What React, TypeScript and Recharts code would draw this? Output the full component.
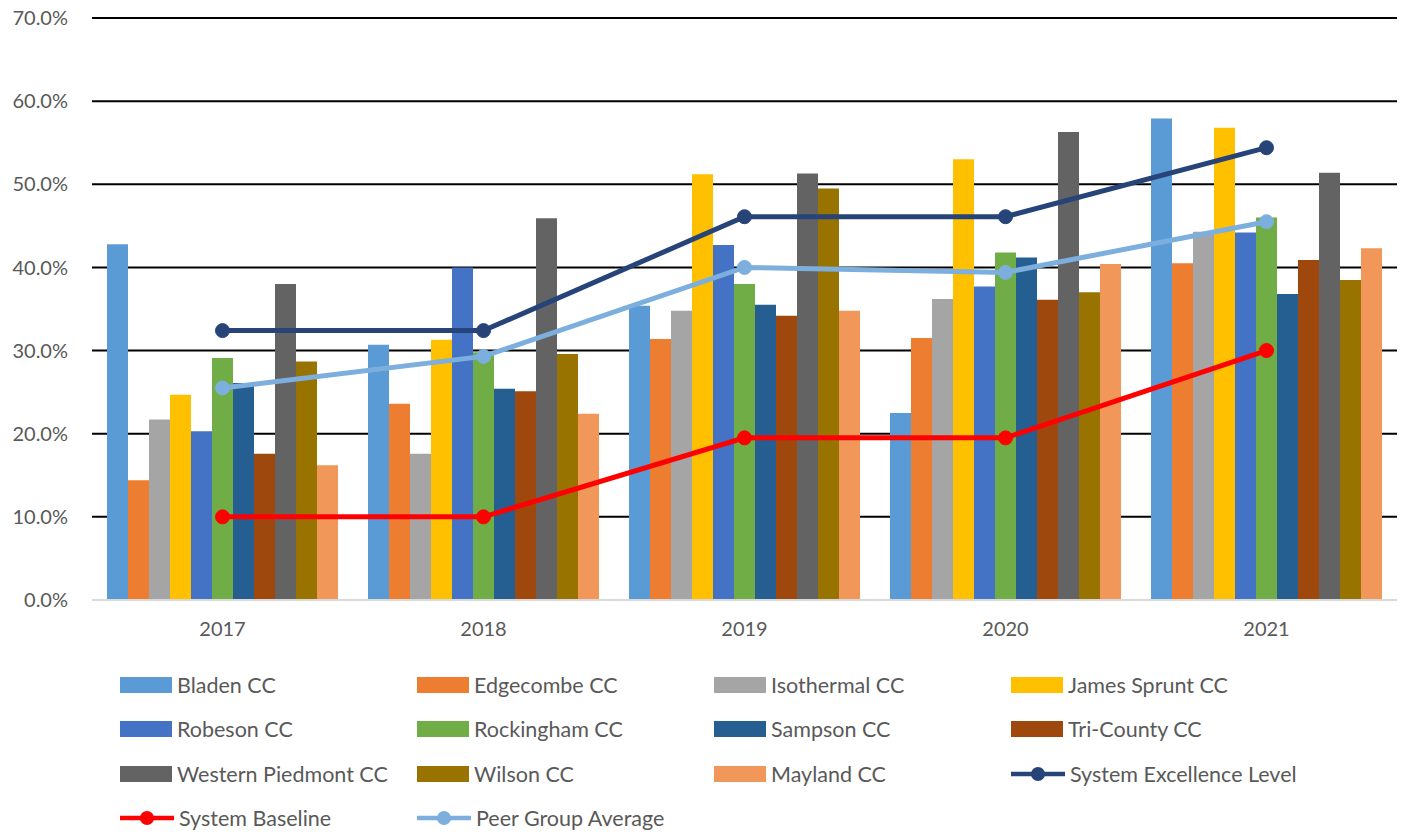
import { ComposedChart, Bar, Line, XAxis, YAxis, CartesianGrid } from 'recharts';

const years = ['2017', '2018', '2019', '2020', '2021'];

const bladen = [42.8, 30.7, 35.4, 22.5, 57.9];
const edgecombe = [14.4, 23.6, 31.4, 31.5, 40.5];
const isothermal = [21.7, 17.6, 34.8, 36.2, 44.3];
const jamesSprunt = [24.7, 31.3, 51.2, 53.0, 56.8];
const robeson = [20.3, 40.0, 42.7, 37.7, 44.2];
const rockingham = [29.1, 29.8, 38.0, 41.8, 46.0];
const sampson = [26.1, 25.4, 35.5, 41.2, 36.8];
const triCounty = [17.6, 25.1, 34.2, 36.1, 40.9];
const westernPiedmont = [38.0, 45.9, 51.3, 56.3, 51.4];
const wilson = [28.7, 29.6, 49.5, 37.0, 38.5];
const mayland = [16.2, 22.4, 34.8, 40.4, 42.3];

const excellence = [32.4, 32.4, 46.1, 46.1, 54.4];
const baseline = [10.0, 10.0, 19.5, 19.5, 30.0];
const peerAverage = [25.5, 29.3, 40.0, 39.4, 45.5];

const yTicks = [0, 10, 20, 30, 40, 50, 60, 70];

const barSeries = [
  { key: 'bladen', name: 'Bladen CC', values: bladen, color: '#5B9BD5' },
  { key: 'edgecombe', name: 'Edgecombe CC', values: edgecombe, color: '#ED7D31' },
  { key: 'isothermal', name: 'Isothermal CC', values: isothermal, color: '#A5A5A5' },
  { key: 'jamesSprunt', name: 'James Sprunt CC', values: jamesSprunt, color: '#FFC000' },
  { key: 'robeson', name: 'Robeson CC', values: robeson, color: '#4472C4' },
  { key: 'rockingham', name: 'Rockingham CC', values: rockingham, color: '#70AD47' },
  { key: 'sampson', name: 'Sampson CC', values: sampson, color: '#255E91' },
  { key: 'triCounty', name: 'Tri-County CC', values: triCounty, color: '#9E480E' },
  { key: 'westernPiedmont', name: 'Western Piedmont CC', values: westernPiedmont, color: '#636363' },
  { key: 'wilson', name: 'Wilson CC', values: wilson, color: '#997300' },
  { key: 'mayland', name: 'Mayland CC', values: mayland, color: '#F1975A' },
];

const lineSeries = [
  { key: 'excellence', name: 'System Excellence Level', values: excellence, color: '#264478' },
  { key: 'baseline', name: 'System Baseline', values: baseline, color: '#FF0000' },
  { key: 'peer', name: 'Peer Group Average', values: peerAverage, color: '#7CAFDD' },
];

const data = years.map((year, i) => {
  const row: Record<string, string | number> = { year };
  barSeries.forEach((s) => (row[s.key] = s.values[i]));
  lineSeries.forEach((s) => (row[s.key] = s.values[i]));
  return row;
});

const FONT = 'Lato, "Liberation Sans", sans-serif';
const TEXT = '#595959';

const legendItems = [
  ...barSeries.map((s) => ({ ...s, type: 'bar' })),
  ...lineSeries.map((s) => ({ ...s, type: 'line' })),
];

function ChartLegend() {
  return (
    <div style={{ position: 'absolute', left: 0, top: 0, fontFamily: FONT, fontSize: 21.5, color: TEXT }}>
      {legendItems.map((item, i) => {
        const col = i % 4;
        const row = Math.floor(i / 4);
        const left = 120 + col * 297;
        const cy = 685 + row * 44.3;
        return (
          <div
            key={item.key}
            style={{ position: 'absolute', left, top: cy - 14, height: 28, display: 'flex', alignItems: 'center', whiteSpace: 'nowrap' }}
          >
            {item.type === 'bar' ? (
              <span style={{ display: 'inline-block', width: 52, height: 16, background: item.color }} />
            ) : (
              <svg width={54} height={16}>
                <line x1={0} y1={8} x2={54} y2={8} stroke={item.color} strokeWidth={4.5} strokeLinecap="round" />
                <circle cx={27} cy={8} r={7} fill={item.color} />
              </svg>
            )}
            <span style={{ marginLeft: 5 }}>{item.name}</span>
          </div>
        );
      })}
    </div>
  );
}

export default function App() {
  return (
    <div style={{ position: 'absolute', left: 0, top: 0, width: 1403, height: 835, background: '#fff' }}>
      <ComposedChart
        width={1403}
        height={835}
        data={data}
        margin={{ top: 18, right: 6, bottom: 205, left: 0 }}
        barCategoryGap={15}
        barGap={0}
      >
        <CartesianGrid vertical={false} horizontalValues={[10, 20, 30, 40, 50, 60, 70]} stroke="#000" strokeWidth={2} />
        <XAxis
          dataKey="year"
          height={30}
          tickLine={false}
          tickSize={0}
          tickMargin={22}
          axisLine={{ stroke: '#D9D9D9', strokeWidth: 2 }}
          tick={{ fill: TEXT, fontSize: 20, fontFamily: FONT }}
        />
        <YAxis
          width={92}
          domain={[0, 70]}
          ticks={yTicks}
          interval={0}
          axisLine={false}
          tickLine={false}
          tickSize={0}
          tickMargin={24}
          tickFormatter={(v: number) => `${v.toFixed(1)}%`}
          tick={{ fill: TEXT, fontSize: 20, fontFamily: FONT }}
        />
        {barSeries.map((s) => (
          <Bar key={s.key} dataKey={s.key} name={s.name} fill={s.color} isAnimationActive={false} />
        ))}
        {lineSeries.map((s) => (
          <Line
            key={s.key}
            dataKey={s.key}
            name={s.name}
            stroke={s.color}
            strokeWidth={5}
            dot={{ r: 7, fill: s.color, stroke: s.color, strokeWidth: 1 }}
            isAnimationActive={false}
          />
        ))}
      </ComposedChart>
      <ChartLegend />
    </div>
  );
}
